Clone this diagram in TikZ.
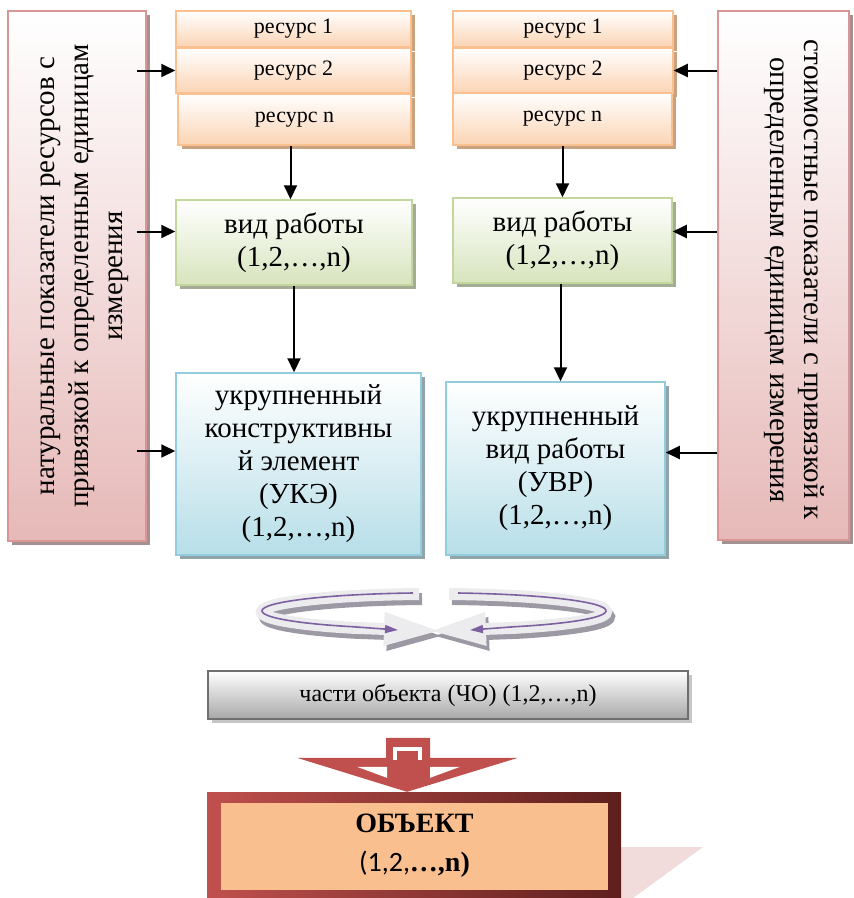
\documentclass[tikz,border=0pt]{standalone}
\usepackage{fontspec}
\setmainfont{Liberation Serif}
\newfontfamily\carlito{Carlito}
\usetikzlibrary{arrows.meta,shadows}

\definecolor{pinkB}{HTML}{E6B9B8}
\definecolor{pinkD}{HTML}{D99694}
\definecolor{pinkS}{HTML}{A39191}
\definecolor{orB}{HTML}{FBD4B4}
\definecolor{orD}{HTML}{FAC090}
\definecolor{orS}{HTML}{C9A27F}
\definecolor{grB}{HTML}{D7E4BD}
\definecolor{grD}{HTML}{C3D69B}
\definecolor{grS}{HTML}{A4AC96}
\definecolor{blB}{HTML}{B7DEE8}
\definecolor{blD}{HTML}{93CDDD}
\definecolor{blS}{HTML}{90A4AA}
\definecolor{gyB}{HTML}{A8A8A8}
\definecolor{gyD}{HTML}{6F6F6F}
\definecolor{redA}{HTML}{C0504D}
\definecolor{redD}{HTML}{5E1F1D}
\definecolor{peach}{HTML}{F9BF8F}
\definecolor{ghost}{HTML}{F2DCDB}
\definecolor{lilac}{HTML}{7D60A0}
\definecolor{bandS}{HTML}{9C98A4}
\definecolor{bandF}{HTML}{ECECEE}

\begin{document}
\begin{tikzpicture}[x=1pt,y=-1pt,
	box/.style={draw,line width=1.5pt,inner sep=0pt,align=center},
	pinkbox/.style={box,draw=pinkD,top color=white,bottom color=pinkB,
		drop shadow={shadow xshift=4pt,shadow yshift=-4pt,fill=pinkS,opacity=1}},
	resbox/.style={box,draw=orD,top color=white,bottom color=orB,
		font=\fontsize{22}{24}\selectfont,
		drop shadow={shadow xshift=4pt,shadow yshift=-4pt,fill=orS,opacity=1}},
	vidbox/.style={box,draw=grD,top color=white,bottom color=grB,
		font=\fontsize{29}{33}\selectfont,
		drop shadow={shadow xshift=4pt,shadow yshift=-4pt,fill=grS,opacity=1}},
	bigbox/.style={box,draw=blD,top color=white,bottom color=blB,
		font=\fontsize{29}{33}\selectfont,
		drop shadow={shadow xshift=4pt,shadow yshift=-4pt,fill=blS,opacity=1}},
	rottxt/.style={align=center,inner sep=0pt,font=\fontsize{29}{34}\selectfont},
	arr/.style={line width=2pt,-{Triangle[length=14pt,width=13pt]}},
	band/.style={line width=12pt,-{Triangle[length=58pt,width=30pt]}},
	thread/.style={draw=lilac,line width=1.6pt,-{Triangle[length=13pt,width=8pt]}}
	]
	\useasboundingbox (0,0) rectangle (854,898);
	% side panels
	\node[pinkbox,minimum width=138pt,minimum height=530pt] (natL) at (77,276) {};
	\node[rottxt,rotate=90] (natLtxt) at (85,276)
		{натуральные показатели ресурсов с\\привязкой к определенным единицам\\измерения};
	\node[pinkbox,minimum width=131pt,minimum height=529pt] (stoR) at (783.5,275.5) {};
	\node[rottxt,rotate=-90] (stoRtxt) at (794,280)
		{стоимостные показатели с привязкой к\\определенным единицам измерения};
	% resources
	\node[resbox,minimum width=235pt,minimum height=36pt] (res1L) at (293.5,29) {ресурс 1};
	\node[resbox,minimum width=235pt,minimum height=45pt] (res2L) at (293.5,70.5) {ресурс 2};
	\node[resbox,minimum width=233pt,minimum height=51pt] (res3L) at (294.5,119.5) {ресурс n};
	\node[resbox,minimum width=220pt,minimum height=36pt] (res1R) at (563,29) {ресурс 1};
	\node[resbox,minimum width=220pt,minimum height=45pt] (res2R) at (563,70.5) {ресурс 2};
	\node[resbox,minimum width=219pt,minimum height=52pt] (res3R) at (562.5,119) {ресурс n};
	% kinds of work
	\node[vidbox,minimum width=236pt,minimum height=85pt] (vidL) at (294,242.5) {вид работы\\(1,2,…,n)};
	\node[vidbox,minimum width=219pt,minimum height=85pt] (vidR) at (562.5,240.5) {вид работы\\(1,2,…,n)};
	\node[bigbox,minimum width=245pt,minimum height=182pt] (ukeL) at (298.5,464)
		{укрупненный\\конструктивны\\й элемент\\(УКЭ)\\(1,2,…,n)};
	\node[bigbox,minimum width=219pt,minimum height=173pt] (uvrR) at (555.5,468.5)
		{укрупненный\\вид работы\\(УВР)\\(1,2,…,n)};
	% inputs
	\coordinate (inVL) at ([yshift=11pt]vidL.west);
	\coordinate (inUL) at ([yshift=13pt]ukeL.west);
	\coordinate (inVR) at ([yshift=9pt]vidR.east);
	\coordinate (inUR) at ([yshift=16pt]uvrR.east);
	\draw[arr,shorten <=-10pt] (natL.east |- res2L.west) -- (res2L.west);
	\draw[arr,shorten <=-10pt] (natL.east |- inVL) -- (inVL);
	\draw[arr,shorten <=-10pt] (natL.east |- inUL) -- (inUL);
	\draw[arr] (stoR.west |- res2R.east) -- (res2R.east);
	\draw[arr] (stoR.west |- inVR) -- (inVR);
	\draw[arr] (stoR.west |- inUR) -- (inUR);
	\draw[arr] ([xshift=-4pt]res3L.south) -- ([xshift=-4pt]res3L.south |- vidL.north);
	\draw[arr] (res3R.south) -- (res3R.south |- vidR.north);
	\draw[arr] (vidL.south) -- (vidL.south |- ukeL.north);
	\draw[arr] ([xshift=-2pt]vidR.south) -- ([xshift=-2pt]vidR.south |- uvrR.north);
	% turning arrows
	\begin{scope}[shift={(3,5)}]
		\draw[band,draw=bandS] (419,594) arc[start angle=265,end angle=118,x radius=172,y radius=18] -- (442,631);
		\draw[band,draw=bandS] (449,594) arc[start angle=275,end angle=422,x radius=172,y radius=18] -- (428,631);
	\end{scope}
	\draw[band,draw=bandF] (419,594) arc[start angle=265,end angle=118,x radius=172,y radius=18] -- (442,631);
	\draw[band,draw=bandF] (449,594) arc[start angle=275,end angle=422,x radius=172,y radius=18] -- (428,631);
	\draw[thread] (413,593) arc[start angle=263,end angle=118,x radius=172,y radius=18] -- (398,630);
	\draw[thread] (458,593) arc[start angle=278,end angle=422,x radius=172,y radius=18] -- (470,630);
	% parts of the object
	\node[box,draw=gyD,top color=white,bottom color=gyB,minimum width=480pt,minimum height=48pt,
		font=\fontsize{24}{26}\selectfont,
		drop shadow={shadow xshift=4pt,shadow yshift=-4pt,fill=gray!45,opacity=1}]
		(cho) at (448,695) {части объекта (ЧО) (1,2,…,n)};
	% object
	\fill[ghost] (621,847) -- (703,847) -- (633,898) -- (621,898) -- cycle;
	\node[inner sep=0pt,left color=redA,right color=redD,minimum width=414pt,minimum height=106pt] (obj) at (414,845) {};
	\node[inner sep=0pt,fill=peach,minimum width=387pt,minimum height=87pt,align=center,
		font=\fontsize{28}{39}\selectfont] (objIn) at (414.5,846)
		{\textbf{ОБЪЕКТ}\\{\carlito (1,2,}\textbf{…,n)}};
	\begin{scope}[shift={([xshift=-7pt]obj.north)}]
		\fill[redA] (-21,-54) -- (23,-54) -- (23,-34) -- (111,-34) -- (0,0) -- (-110,-34) -- (-21,-34) -- cycle;
		\fill[white] (-50,-25) -- (-20,-25) -- (-20,-14) -- cycle;
		\fill[white] (53,-25) -- (23,-25) -- (23,-14) -- cycle;
		\draw[white,line width=4pt] (-12,-32) -- (-12,-43) -- (13,-43) -- (13,-32);
	\end{scope}
\end{tikzpicture}
\end{document}
